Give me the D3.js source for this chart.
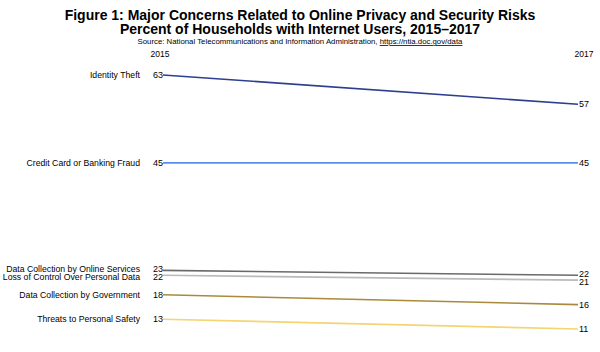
<!DOCTYPE html>
<html>
<head>
<meta charset="utf-8">
<script src="https://cdn.jsdelivr.net/npm/d3@7"></script>
<style>
  body { margin: 0; background: #fff; }
  svg { display: block; font-family: "Liberation Sans", Arial, Helvetica, sans-serif; }
</style>
</head>
<body>
<div id="chart"></div>
<script>
var years = ['2015', '2017'];
var categories = [
  'Identity Theft',
  'Credit Card or Banking Fraud',
  'Data Collection by Online Services',
  'Loss of Control Over Personal Data',
  'Data Collection by Government',
  'Threats to Personal Safety'
];
var values2015 = [63, 45, 23, 22, 18, 13];
var values2017 = [57, 45, 22, 21, 16, 11];
var colors = ['#2d3f8e', '#5b8ee9', '#6a6a6a', '#bababa', '#a98a3c', '#f4d473'];

var width = 600, height = 352;

var svg = d3.select('#chart').append('svg')
  .attr('width', width)
  .attr('height', height);

// titles
svg.append('text')
  .attr('x', 300).attr('y', 20)
  .attr('text-anchor', 'middle')
  .attr('font-size', 14).attr('font-weight', 'bold')
  .text('Figure 1: Major Concerns Related to Online Privacy and Security Risks');
svg.append('text')
  .attr('x', 300).attr('y', 34)
  .attr('text-anchor', 'middle')
  .attr('font-size', 14).attr('font-weight', 'bold')
  .text('Percent of Households with Internet Users, 2015\u20132017');

var src = svg.append('text')
  .attr('x', 300).attr('y', 44)
  .attr('text-anchor', 'middle')
  .attr('font-size', 7.8);
src.append('tspan').text('Source: National Telecommunications and Information Administration, ');
src.append('tspan').attr('text-decoration', 'underline').text('https://ntia.doc.gov/data');

var x = d3.scalePoint().domain(years).range([163, 578]);
var y = d3.scaleLinear().domain([11, 63]).range([329, 75]);

svg.append('text')
  .attr('x', 160).attr('y', 57)
  .attr('text-anchor', 'middle')
  .attr('font-size', 8.5)
  .text(years[0]);
svg.append('text')
  .attr('x', 584).attr('y', 57)
  .attr('text-anchor', 'middle')
  .attr('font-size', 8.5)
  .text(years[1]);

var rows = categories.map(function(c, i) {
  return { name: c, a: values2015[i], b: values2017[i], color: colors[i] };
});

// nudge label positions apart so close values don't collide
function spread(vals, gap) {
  var pos = vals.map(function(v, i) { return { i: i, y: y(v) }; })
    .sort(function(p, q) { return p.y - q.y; });
  for (var k = 1; k < pos.length; k++) {
    var d = pos[k].y - pos[k - 1].y;
    if (d < gap) {
      var shift = (gap - d) / 2;
      pos[k - 1].y -= shift;
      pos[k].y += shift;
    }
  }
  var out = [];
  pos.forEach(function(p) { out[p.i] = p.y; });
  return out;
}
var labelA = spread(values2015, 8);
var labelB = spread(values2017, 8);

var g = svg.selectAll('g.row').data(rows).enter().append('g').attr('class', 'row');

g.append('line')
  .attr('x1', x(years[0])).attr('x2', x(years[1]))
  .attr('y1', function(d) { return y(d.a); })
  .attr('y2', function(d) { return y(d.b); })
  .attr('stroke', function(d) { return d.color; })
  .attr('stroke-width', 1.6);

g.append('text')
  .attr('x', x(years[0]) - 10)
  .attr('y', function(d, i) { return labelA[i]; })
  .attr('dy', '0.35em')
  .attr('font-size', 9)
  .text(function(d) { return d.a; });

g.append('text')
  .attr('x', 140)
  .attr('y', function(d, i) { return labelA[i]; })
  .attr('dy', '0.35em')
  .attr('text-anchor', 'end')
  .attr('font-size', 8.7)
  .text(function(d) { return d.name; });

g.append('text')
  .attr('x', x(years[1]) + 1)
  .attr('y', function(d, i) { return labelB[i]; })
  .attr('dy', '0.35em')
  .attr('font-size', 9)
  .text(function(d) { return d.b; });
</script>
</body>
</html>
